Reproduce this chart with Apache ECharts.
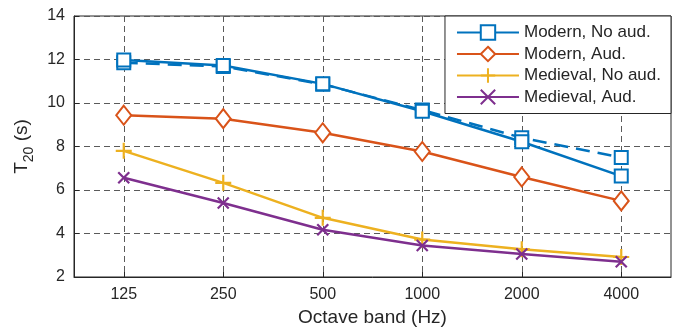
<!DOCTYPE html>
<html>
<head>
<meta charset="utf-8">
<script src="https://cdn.jsdelivr.net/npm/echarts@6/dist/echarts.min.js"></script>
<style>
  html, body { margin: 0; padding: 0; background: #fff; }
  #chart { width: 677px; height: 332px; }
</style>
</head>
<body>
<div id="chart"></div>
<script>
// octave bands
const bands = ['125', '250', '500', '1000', '2000', '4000']

// T20 values (s)
const modernNoAud = [11.98, 11.72, 10.88, 9.62, 8.22, 6.64]
const modernNoAudDashed = [11.85, 11.68, 10.86, 9.68, 8.4, 7.5]
const modernAud = [9.44, 9.28, 8.63, 7.77, 6.6, 5.5]
const medievalNoAud = [7.8, 6.33, 4.72, 3.72, 3.28, 2.92]
const medievalAud = [6.56, 5.4, 4.17, 3.45, 3.06, 2.7]

const yTicks = [2, 4, 6, 8, 10, 12, 14]

const BLUE = '#0072BD'
const ORANGE = '#D95319'
const YELLOW = '#EDB120'
const PURPLE = '#7E2F8E'

const plusPath = 'path://M5,0 L5,10 M0,5 L10,5'
const crossPath = 'path://M0,0 L10,10 M10,0 L0,10'

const chart = echarts.init(document.getElementById('chart'))

const font = 'Liberation Sans, Arial, Helvetica, sans-serif'

function lineSeries(name, data, color, symbol, size, extra) {
  return Object.assign({
    name: name,
    type: 'line',
    data: data,
    symbol: symbol,
    symbolSize: size,
    showAllSymbol: true,
    lineStyle: { color: color, width: 2.5 },
    itemStyle: { color: color, borderColor: color, borderWidth: 2.2 },
    emphasis: { disabled: true },
    animation: false
  }, extra || {})
}

const option = {
  backgroundColor: '#fff',
  textStyle: { fontFamily: font },
  grid: {
    left: 74,
    right: 6,
    top: 16,
    bottom: 51,
    show: true,
    borderColor: '#262626',
    borderWidth: 1
  },
  legend: {
    data: ['Modern, No aud.', 'Modern, Aud.', 'Medieval, No aud.', 'Medieval, Aud.'],
    orient: 'vertical',
    right: 6,
    top: 16,
    padding: [8, 10, 8, 11],
    itemWidth: 62,
    itemHeight: 18,
    itemGap: 4.5,
    backgroundColor: '#fff',
    borderColor: '#262626',
    borderWidth: 1,
    textStyle: { fontSize: 17, color: '#262626', fontFamily: font },
    selectedMode: false
  },
  xAxis: {
    type: 'category',
    data: bands,
    boundaryGap: true,
    name: 'Octave band (Hz)',
    nameLocation: 'middle',
    nameGap: 31,
    nameTextStyle: { fontSize: 19, color: '#262626' },
    axisLine: { lineStyle: { color: '#262626' } },
    axisTick: { show: true, inside: true, alignWithLabel: true, length: 5, lineStyle: { color: '#262626' } },
    axisLabel: { fontSize: 16, color: '#262626', margin: 10 },
    splitLine: {
      show: true,
      alignWithLabel: true,
      lineStyle: { color: '#5a5a5a', type: [6, 4], width: 1 }
    }
  },
  yAxis: {
    type: 'value',
    min: yTicks[0],
    max: yTicks[yTicks.length - 1],
    interval: 2,
    name: '{t|T}{s|20}{t| (s)}',
    nameLocation: 'middle',
    nameGap: 40,
    nameRotate: 90,
    nameTextStyle: {
      rich: {
        t: { fontSize: 19, color: '#262626', verticalAlign: 'bottom' },
        s: { fontSize: 14, color: '#262626', verticalAlign: 'bottom', padding: [0, 0, -5, 0] }
      }
    },
    axisLine: { show: true, lineStyle: { color: '#262626' } },
    axisTick: { show: true, inside: true, length: 5, lineStyle: { color: '#262626' } },
    axisLabel: { fontSize: 16, color: '#262626', margin: 9 },
    splitLine: {
      show: true,
      lineStyle: { color: '#5a5a5a', type: [6, 4], width: 1 }
    }
  },
  series: [
    lineSeries('Modern, No aud. (dashed)', modernNoAudDashed, BLUE, 'emptyRect', 13,
      { lineStyle: { color: BLUE, width: 2.5, type: [14, 8] }, z: 2 }),
    lineSeries('Modern, No aud.', modernNoAud, BLUE, 'emptyRect', 13, { z: 3 }),
    lineSeries('Modern, Aud.', modernAud, ORANGE, 'emptyDiamond', [15, 19], { z: 3 }),
    lineSeries('Medieval, No aud.', medievalNoAud, YELLOW, plusPath, 16, { z: 3 }),
    lineSeries('Medieval, Aud.', medievalAud, PURPLE, crossPath, 11, { z: 3 })
  ]
}

chart.setOption(option)
</script>
</body>
</html>
